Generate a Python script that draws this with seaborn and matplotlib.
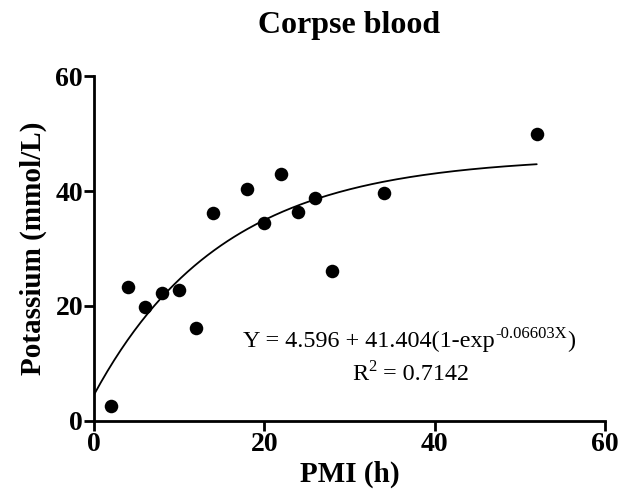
import numpy as np
import pandas as pd
import matplotlib
matplotlib.use("Agg")
import matplotlib.pyplot as plt
import seaborn as sns

pmi = [2, 4, 6, 8, 10, 12, 14, 18, 20, 22, 24, 26, 28, 34, 52]
potassium = [2.6, 23.3, 19.8, 22.2, 22.8, 16.1, 36.2, 40.3, 34.5, 43.0, 36.4, 38.7, 26.0, 39.6, 50.0]
x_ticks = [0, 20, 40, 60]
y_ticks = [0, 20, 40, 60]
fit_a, fit_b, fit_k = 4.596, 41.404, 0.06603

sns.set_style("ticks")
plt.rcParams['font.family'] = ['Liberation Serif', 'DejaVu Serif']
plt.rcParams['text.color'] = 'black'
plt.rcParams['axes.labelcolor'] = 'black'
plt.rcParams['xtick.color'] = 'black'
plt.rcParams['ytick.color'] = 'black'
plt.rcParams['axes.edgecolor'] = 'black'

fig = plt.figure(figsize=(6.32, 5.04), dpi=100)
ax = fig.add_axes([0.149, 0.165, 0.808, 0.684])

df = pd.DataFrame({"PMI": pmi, "K": potassium})
sns.scatterplot(data=df, x="PMI", y="K", ax=ax, color="black", s=95, edgecolor="black", linewidth=0, zorder=3)

xf = np.linspace(0, 52, 200)
yf = fit_a + fit_b * (1 - np.exp(-fit_k * xf))
sns.lineplot(x=xf, y=yf, ax=ax, color="black", linewidth=1.3)

ax.set_xlim(0, 60)
ax.set_ylim(0, 60)
ax.set_xticks(x_ticks)
ax.set_yticks(y_ticks)
ax.set_xticklabels([str(t) for t in x_ticks], fontsize=20, fontweight="bold")
ax.set_yticklabels([str(t) for t in y_ticks], fontsize=20, fontweight="bold")
ax.tick_params(direction="out", length=7, width=2, pad=1)
for s in ["left", "bottom"]:
    ax.spines[s].set_linewidth(2)
sns.despine(ax=ax)

ax.set_xlabel("PMI (h)", fontsize=21, fontweight="bold", labelpad=3)
ax.set_ylabel("Potassium (mmol/L)", fontsize=21, fontweight="bold", labelpad=6)
ax.set_title("Corpse blood", fontsize=23, fontweight="bold", pad=31)

main_fs = 17.4
sup_fs = 12

# equation, line 1
b1 = 12.9
t1 = ax.text(17.5, b1, "Y = 4.596 + 41.404(1-exp", fontsize=main_fs, ha="left", va="baseline")
t2 = ax.annotate("-0.06603X", xy=(1, b1), xycoords=(t1, "data"), xytext=(0.5, 6.5),
                 textcoords="offset points", fontsize=sup_fs, ha="left", va="baseline")
ax.annotate(")", xy=(1, b1), xycoords=(t2, "data"), xytext=(0, 0),
            textcoords="offset points", fontsize=main_fs, ha="left", va="baseline")

# line 2
b2 = 7.15
r1 = ax.text(30.3, b2, "R", fontsize=main_fs, ha="left", va="baseline")
r2 = ax.annotate("2", xy=(1, b2), xycoords=(r1, "data"), xytext=(0.3, 6.5),
                 textcoords="offset points", fontsize=sup_fs, ha="left", va="baseline")
ax.annotate(" = 0.7142", xy=(1, b2), xycoords=(r2, "data"), xytext=(0, 0),
            textcoords="offset points", fontsize=main_fs, ha="left", va="baseline")

fig.savefig("out.png", dpi=100)
